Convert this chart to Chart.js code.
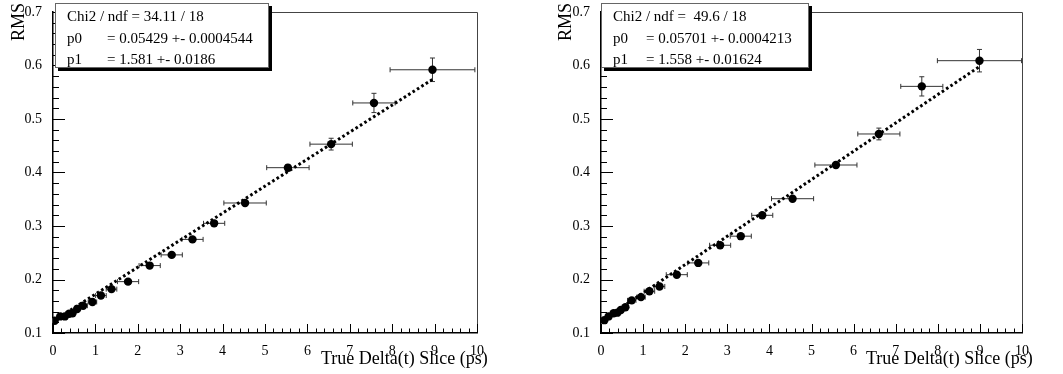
<!DOCTYPE html>
<html>
<head>
<meta charset="utf-8">
<script src="https://cdn.jsdelivr.net/npm/chart.js@4.4.0/dist/chart.umd.min.js"></script>
<style>
  body { margin: 0; background: #fff; width: 1063px; height: 374px; position: relative; overflow: hidden;
         font-family: "Liberation Serif", "DejaVu Serif", serif; color: #000; }
  canvas { position: absolute; top: 0; }
  .stats { position: absolute; top: 3px; height: 63px; background: #fff; border: 1px solid #666;
           box-shadow: 3px 3px 0 #000; font-size: 15px; }
  .stats span { position: absolute; white-space: pre; line-height: 15px; }
  .ytitle { position: absolute; font-size: 18px; line-height: 18px; white-space: pre;
            transform: rotate(-90deg); transform-origin: left top; }
  .xtitle { position: absolute; font-size: 18px; line-height: 18px; white-space: pre; }
</style>
</head>
<body>
<canvas id="left" width="531" height="374" style="left:0"></canvas>
<canvas id="right" width="532" height="374" style="left:531px"></canvas>

<div class="ytitle" style="left:9px;top:41px">RMS</div>
<div class="ytitle" style="left:556px;top:41px">RMS</div>
<div class="xtitle" style="left:321px;top:349px">True Delta(t) Slice (ps)</div>
<div class="xtitle" style="left:866px;top:349px">True Delta(t) Slice (ps)</div>

<div class="stats" style="left:55px;width:212px">
  <span style="left:11px;top:5px">Chi2 / ndf = 34.11 / 18</span>
  <span style="left:11px;top:27px">p0</span><span style="left:51px;top:27px">= 0.05429 +- 0.0004544</span>
  <span style="left:11px;top:48px">p1</span><span style="left:51px;top:48px">= 1.581 +- 0.0186</span>
</div>
<div class="stats" style="left:601px;width:206px">
  <span style="left:11px;top:5px">Chi2 / ndf =  49.6 / 18</span>
  <span style="left:11px;top:27px">p0</span><span style="left:44px;top:27px">= 0.05701 +- 0.0004213</span>
  <span style="left:11px;top:48px">p1</span><span style="left:44px;top:48px">= 1.558 +- 0.01624</span>
</div>

<script>
// tick labels
const xTicks = [0, 1, 2, 3, 4, 5, 6, 7, 8, 9, 10];
const yTicks = [0.1, 0.2, 0.3, 0.4, 0.5, 0.6, 0.7];

// left panel: RMS per Delta(t) slice
const xLeft  = [0.04, 0.17, 0.28, 0.38, 0.46, 0.57, 0.71, 0.93, 1.13, 1.38, 1.77, 2.28, 2.80, 3.29, 3.80, 4.53, 5.54, 6.56, 7.57, 8.95];
const yLeft  = [0.123, 0.131, 0.131, 0.136, 0.137, 0.145, 0.151, 0.158, 0.170, 0.182, 0.196, 0.226, 0.246, 0.275, 0.305, 0.343, 0.409, 0.453, 0.530, 0.592];
const exLeft = [0.05, 0.05, 0.05, 0.05, 0.05, 0.05, 0.1, 0.1, 0.125, 0.125, 0.25, 0.25, 0.25, 0.25, 0.25, 0.5, 0.5, 0.5, 0.5, 1.0];
const eyLeft = [0.002, 0.002, 0.002, 0.002, 0.002, 0.002, 0.002, 0.002, 0.002, 0.002, 0.002, 0.003, 0.003, 0.003, 0.003, 0.004, 0.006, 0.011, 0.018, 0.022];
const fitXLeft = [0, 8.95];
const fitYLeft = [0.122, 0.574];

// right panel
const xRight  = [0.08, 0.18, 0.30, 0.39, 0.47, 0.58, 0.73, 0.95, 1.15, 1.39, 1.80, 2.31, 2.83, 3.32, 3.83, 4.55, 5.58, 6.60, 7.62, 8.99];
const yRight  = [0.124, 0.131, 0.137, 0.138, 0.143, 0.148, 0.161, 0.167, 0.178, 0.187, 0.209, 0.231, 0.264, 0.281, 0.320, 0.351, 0.414, 0.472, 0.561, 0.609];
const exRight = [0.05, 0.05, 0.05, 0.05, 0.05, 0.05, 0.1, 0.1, 0.125, 0.125, 0.25, 0.25, 0.25, 0.25, 0.25, 0.5, 0.5, 0.5, 0.5, 1.0];
const eyRight = [0.002, 0.002, 0.002, 0.002, 0.002, 0.002, 0.002, 0.002, 0.002, 0.002, 0.002, 0.003, 0.003, 0.003, 0.003, 0.004, 0.005, 0.011, 0.018, 0.021];
const fitXRight = [0, 8.99];
const fitYRight = [0.122, 0.598];

const FONT = { family: 'Liberation Serif', size: 14 };

// error bars (drawn under the markers)
const errorBars = {
  id: 'errorBars',
  beforeDatasetsDraw(chart) {
    const ds = chart.data.datasets[0];
    const xs = chart.scales.x, ys = chart.scales.y, c = chart.ctx;
    c.save();
    c.strokeStyle = '#333';
    c.lineWidth = 1;
    ds.data.forEach(p => {
      const px = xs.getPixelForValue(p.x), py = ys.getPixelForValue(p.y);
      const x0 = xs.getPixelForValue(p.x - p.ex), x1 = xs.getPixelForValue(p.x + p.ex);
      const y0 = ys.getPixelForValue(p.y - p.ey), y1 = ys.getPixelForValue(p.y + p.ey);
      c.beginPath();
      c.moveTo(x0, py); c.lineTo(x1, py);
      c.moveTo(x0, py - 2.5); c.lineTo(x0, py + 2.5);
      c.moveTo(x1, py - 2.5); c.lineTo(x1, py + 2.5);
      c.moveTo(px, y0); c.lineTo(px, y1);
      c.moveTo(px - 2.5, y0); c.lineTo(px + 2.5, y0);
      c.moveTo(px - 2.5, y1); c.lineTo(px + 2.5, y1);
      c.stroke();
    });
    c.restore();
  }
};

// ROOT style frame with ticks pointing inward
const frameTicks = {
  id: 'frameTicks',
  afterDraw(chart) {
    const { left, right, top, bottom } = chart.chartArea;
    const xs = chart.scales.x, ys = chart.scales.y, c = chart.ctx;
    c.save();
    c.strokeStyle = '#444';
    c.lineWidth = 1;
    c.beginPath();
    c.moveTo(left, top + 0.5); c.lineTo(right + 0.5, top + 0.5); c.lineTo(right + 0.5, bottom);
    c.stroke();
    c.strokeStyle = '#000';
    c.beginPath();
    for (let i = 0; i < xTicks.length; i++) {
      const px = Math.round(xs.getPixelForValue(xTicks[i])) + 0.5;
      c.moveTo(px, bottom); c.lineTo(px, bottom - 9);
      if (i < xTicks.length - 1) {
        const step = (xTicks[i + 1] - xTicks[i]) / 5;
        for (let k = 1; k < 5; k++) {
          const mx = Math.round(xs.getPixelForValue(xTicks[i] + k * step)) + 0.5;
          c.moveTo(mx, bottom); c.lineTo(mx, bottom - 4.5);
        }
      }
    }
    for (let i = 0; i < yTicks.length; i++) {
      const py = Math.round(ys.getPixelForValue(yTicks[i])) + 0.5;
      c.moveTo(left, py); c.lineTo(left + 12, py);
      if (i < yTicks.length - 1) {
        const step = (yTicks[i + 1] - yTicks[i]) / 5;
        for (let k = 1; k < 5; k++) {
          const my = Math.round(ys.getPixelForValue(yTicks[i] + k * step)) + 0.5;
          c.moveTo(left, my); c.lineTo(left + 6, my);
        }
      }
    }
    c.stroke();
    c.restore();
  }
};

function makePanel(id, xv, yv, ex, ey, fx, fy, yAxisW, padRight) {
  new Chart(document.getElementById(id), {
    type: 'scatter',
    data: {
      datasets: [
        {
          data: xv.map((x, i) => ({ x, y: yv[i], ex: ex[i], ey: ey[i] })),
          pointRadius: 4.2, pointBackgroundColor: '#000', pointBorderColor: '#000', pointBorderWidth: 0,
          showLine: false
        },
        {
          type: 'line',
          data: fx.map((x, i) => ({ x, y: fy[i] })),
          borderColor: '#000', borderWidth: 3, borderDash: [2.6, 2.6], pointRadius: 0,
          fill: false, tension: 0
        }
      ]
    },
    options: {
      responsive: false,
      animation: false,
      events: [],
      layout: { padding: { left: 0, right: padRight, top: 12, bottom: 0 } },
      plugins: { legend: { display: false }, tooltip: { enabled: false } },
      scales: {
        x: {
          type: 'linear', min: 0, max: 10,
          afterBuildTicks: s => { s.ticks = xTicks.map(v => ({ value: v })); },
          afterFit: s => { s.height = 41; },
          grid: { display: false },
          border: { display: true, color: '#000', width: 1.5 },
          ticks: { font: FONT, color: '#000', padding: 2, maxRotation: 0, autoSkip: false, callback: v => String(v) }
        },
        y: {
          type: 'linear', min: 0.1, max: 0.7,
          afterBuildTicks: s => { s.ticks = yTicks.map(v => ({ value: v })); },
          afterFit: s => { s.width = yAxisW; },
          grid: { display: false },
          border: { display: true, color: '#000', width: 1.5 },
          ticks: { font: FONT, color: '#000', padding: 3, autoSkip: false, callback: v => v.toFixed(1) }
        }
      }
    },
    plugins: [errorBars, frameTicks]
  });
}

makePanel('left', xLeft, yLeft, exLeft, eyLeft, fitXLeft, fitYLeft, 53, 54);
makePanel('right', xRight, yRight, exRight, eyRight, fitXRight, fitYRight, 70, 41);
</script>
</body>
</html>
